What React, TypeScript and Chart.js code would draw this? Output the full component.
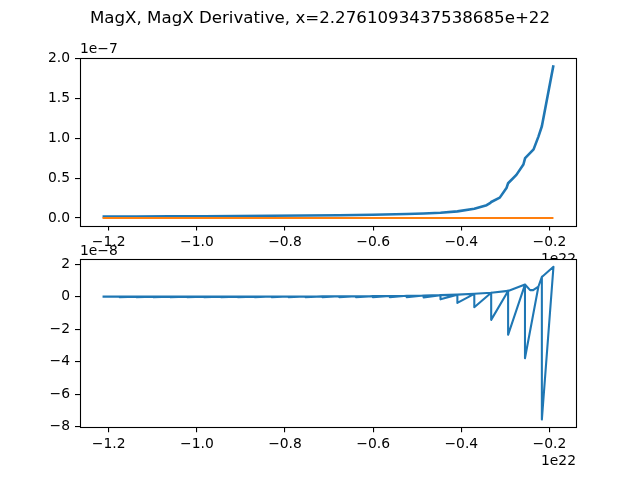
import React, { useEffect, useRef } from "react";
import { Chart, registerables } from "chart.js";

Chart.register(...registerables);

const TITLE = "MagX, MagX Derivative, x=2.2761093437538685e+22";
const X_OFFSET_LABEL = "1e22";
const TOP_Y_OFFSET_LABEL = "1e\u22127";
const BOTTOM_Y_OFFSET_LABEL = "1e\u22128";

// x in units of 1e22
const X_STEPS = [
  -1.214, -1.1757, -1.1373, -1.099, -1.0606, -1.0223, -0.984, -0.9456, -0.9073,
  -0.8689, -0.8306, -0.7923, -0.7539, -0.7156, -0.6772, -0.6389, -0.6006,
  -0.5622, -0.5239, -0.4855, -0.4472, -0.4089, -0.3705, -0.3322, -0.2938,
  -0.2555, -0.2172,
];
const X_END = -0.1909;

// MagX (units of 1e-7)
const MAGX_X = [
  -1.214, -1.1373, -1.0606, -0.984, -0.9073, -0.8306, -0.7539, -0.6772, -0.6006,
  -0.5239, -0.4855, -0.4472, -0.4089, -0.3705, -0.3425, -0.334, -0.3322,
  -0.3127, -0.2975, -0.2938, -0.275, -0.2591, -0.2552, -0.236, -0.225, -0.2172,
  -0.1909,
];
const MAGX_Y = [
  0.018, 0.019, 0.02, 0.022, 0.024, 0.027, 0.03, 0.034, 0.04, 0.049, 0.056, 0.066,
  0.083, 0.115, 0.16, 0.19, 0.2, 0.255, 0.375, 0.435, 0.54, 0.67, 0.75, 0.86,
  1.02, 1.15, 1.915,
];

// second series of the top panel (flat at zero)
const FLAT_X = [-1.214, -0.1909];
const FLAT_Y = [0, 0];

// MagX derivative (units of 1e-8): value at each step before the drop, and the drop
const DERIV_TOP = [
  0, 0, 0, 0, 0, 0, 0, 0, 0, 0, 0.005, 0.01, 0.01, 0.015, 0.02, 0.025, 0.03, 0.04,
  0.05, 0.07, 0.09, 0.12, 0.17, 0.24, 0.35, 0.74, 1.21,
];
const DERIV_LOW = [
  0, -0.03, -0.03, -0.03, -0.03, -0.03, -0.03, -0.03, -0.03, -0.03, -0.03, -0.03,
  -0.03, -0.03, -0.03, -0.035, -0.035, -0.04, -0.045, -0.06, -0.17, -0.39, -0.65,
  -1.43, -2.35, -3.79, -7.56,
];
const DERIV_END = 1.83;
// extra points between the last two steps
const DERIV_DIP_X = [-0.2439, -0.237, -0.225];
const DERIV_DIP_Y = [0.4, 0.4, 0.62];

const X_TICKS = [-1.2, -1.0, -0.8, -0.6, -0.4, -0.2];
const TOP_Y_TICKS = [0, 0.5, 1.0, 1.5, 2.0];
const BOTTOM_Y_TICKS = [-8, -6, -4, -2, 0, 2];

const BLUE = "#1f77b4";
const ORANGE = "#ff7f0e";
const FONT = "'DejaVu Sans', 'Liberation Sans', sans-serif";
const TICK_PX = 13.89;

const minus = (s: string) => s.replace(/-/g, "\u2212");

function buildMagX() {
  return MAGX_X.map((x, i) => ({ x, y: MAGX_Y[i] }));
}
function buildFlat() {
  return FLAT_X.map((x, i) => ({ x, y: FLAT_Y[i] }));
}
function buildDeriv() {
  const pts: { x: number; y: number }[] = [];
  const last = X_STEPS.length - 1;
  for (let j = 0; j <= last; j++) {
    pts.push({ x: X_STEPS[j], y: DERIV_TOP[j] });
    pts.push({ x: X_STEPS[j], y: DERIV_LOW[j] });
    if (j === last - 1) {
      pts.push({ x: DERIV_DIP_X[2], y: DERIV_DIP_Y[2] });
    }
  }
  pts.push({ x: X_END, y: DERIV_END });
  // return along the upper edge
  for (let j = last; j >= 0; j--) {
    pts.push({ x: X_STEPS[j], y: DERIV_TOP[j] });
    if (j === last) {
      for (let k = DERIV_DIP_X.length - 1; k >= 0; k--) {
        pts.push({ x: DERIV_DIP_X[k], y: DERIV_DIP_Y[k] });
      }
    }
  }
  return pts;
}

function range(vals: number[]) {
  const lo = Math.min(...vals);
  const hi = Math.max(...vals);
  const m = (hi - lo) * 0.05;
  return { min: lo - m, max: hi + m };
}

type Area = { left: number; top: number; right: number; bottom: number };

function makeConfig(
  datasets: any[],
  area: Area,
  yRange: { min: number; max: number },
  yTicks: number[],
  yFmt: (v: number) => string,
  texts: { yOffset: string; xOffsetBaseline: number; title?: string; whiteArea?: boolean }
) {
  const xr = range([...X_STEPS, X_END]);
  const X_AXIS_H = 40;
  const plugin = {
    id: "mplframe",
    beforeDraw(chart: any) {
      if (!texts.whiteArea) return;
      const ctx = chart.ctx;
      const a = chart.chartArea;
      ctx.save();
      ctx.fillStyle = "#ffffff";
      ctx.fillRect(a.left, a.top, a.right - a.left, a.bottom - a.top);
      ctx.restore();
    },
    afterDraw(chart: any) {
      const ctx = chart.ctx;
      const a = chart.chartArea;
      ctx.save();
      ctx.strokeStyle = "#000";
      ctx.lineWidth = 1.1;
      ctx.strokeRect(
        Math.round(a.left) + 0.5,
        Math.round(a.top) + 0.5,
        Math.round(a.right) - Math.round(a.left),
        Math.round(a.bottom) - Math.round(a.top)
      );
      ctx.fillStyle = "#000";
      ctx.font = `${TICK_PX}px ${FONT}`;
      ctx.textBaseline = "alphabetic";
      ctx.textAlign = "left";
      ctx.fillText(texts.yOffset, a.left, a.top - 4.3);
      ctx.textAlign = "right";
      ctx.fillText(X_OFFSET_LABEL, a.right, texts.xOffsetBaseline);
      if (texts.title) {
        ctx.font = `16.67px ${FONT}`;
        ctx.textAlign = "center";
        ctx.fillText(texts.title, 320, 22.7);
      }
      ctx.restore();
    },
  };
  return {
    type: "scatter" as const,
    data: { datasets },
    plugins: [plugin],
    options: {
      animation: false as const,
      responsive: false,
      devicePixelRatio: 1,
      events: [],
      layout: {
        padding: {
          left: 0,
          top: area.top,
          right: 640 - area.right,
          bottom: 480 - area.bottom - X_AXIS_H,
        },
      },
      plugins: { legend: { display: false }, tooltip: { enabled: false }, title: { display: false } },
      scales: {
        x: {
          type: "linear" as const,
          position: "bottom" as const,
          min: xr.min,
          max: xr.max,
          afterFit: (axis: any) => {
            axis.height = X_AXIS_H;
          },
          afterBuildTicks: (axis: any) => {
            axis.ticks = X_TICKS.map((v) => ({ value: v }));
          },
          border: { display: false },
          grid: {
            display: true,
            drawOnChartArea: false,
            drawTicks: true,
            tickLength: 5,
            color: "#000",
            lineWidth: 1.1,
          },
          ticks: {
            color: "#000",
            padding: 3.5,
            maxRotation: 0,
            autoSkip: false,
            font: { family: FONT, size: TICK_PX },
            callback: (v: any) => minus(Number(v).toFixed(1)),
          },
        },
        y: {
          type: "linear" as const,
          position: "left" as const,
          min: yRange.min,
          max: yRange.max,
          afterFit: (axis: any) => {
            axis.width = area.left;
          },
          afterBuildTicks: (axis: any) => {
            axis.ticks = yTicks.map((v) => ({ value: v }));
          },
          border: { display: false },
          grid: {
            display: true,
            drawOnChartArea: false,
            drawTicks: true,
            tickLength: 5,
            color: "#000",
            lineWidth: 1.1,
          },
          ticks: {
            color: "#000",
            padding: 5,
            autoSkip: false,
            font: { family: FONT, size: TICK_PX },
            callback: (v: any) => yFmt(Number(v)),
          },
        },
      },
    },
  };
}

export default function App() {
  const ref1 = useRef<HTMLCanvasElement>(null);
  const ref2 = useRef<HTMLCanvasElement>(null);

  useEffect(() => {
    const magx = buildMagX();
    const flat = buildFlat();
    const deriv = buildDeriv();

    const topRange = range([...MAGX_Y, ...FLAT_Y]);
    const botRange = range([...DERIV_TOP, ...DERIV_LOW, DERIV_END, ...DERIV_DIP_Y]);

    const lineDs = (data: any[], color: string, order: number, width: number) => ({
      data,
      showLine: true,
      borderColor: color,
      backgroundColor: color,
      borderWidth: width,
      pointRadius: 0,
      pointHoverRadius: 0,
      borderJoinStyle: "round",
      borderCapStyle: "butt",
      tension: 0,
      fill: false,
      order,
    });

    const c1 = new Chart(
      ref1.current!,
      makeConfig(
        [lineDs(magx, BLUE, 1, 2.6), lineDs(flat, ORANGE, 0, 2.08)],
        { left: 80, top: 57.6, right: 576, bottom: 225.6 },
        topRange,
        TOP_Y_TICKS,
        (v) => minus(v.toFixed(1)),
        { yOffset: TOP_Y_OFFSET_LABEL, xOffsetBaseline: 263.4, title: TITLE }
      ) as any
    );
    const c2 = new Chart(
      ref2.current!,
      makeConfig(
        [lineDs(deriv, BLUE, 0, 2.08)],
        { left: 80, top: 259.2, right: 576, bottom: 427.2 },
        botRange,
        BOTTOM_Y_TICKS,
        (v) => minus(String(Math.round(v))),
        { yOffset: BOTTOM_Y_OFFSET_LABEL, xOffsetBaseline: 465, whiteArea: true }
      ) as any
    );
    return () => {
      c1.destroy();
      c2.destroy();
    };
  }, []);

  return (
    <div
      style={{
        position: "absolute",
        left: 0,
        top: 0,
        width: 640,
        height: 480,
        background: "#ffffff",
      }}
    >
      <canvas
        ref={ref1}
        width={640}
        height={480}
        style={{ position: "absolute", left: 0, top: 0, width: 640, height: 480 }}
      />
      <canvas
        ref={ref2}
        width={640}
        height={480}
        style={{ position: "absolute", left: 0, top: 0, width: 640, height: 480 }}
      />
    </div>
  );
}
